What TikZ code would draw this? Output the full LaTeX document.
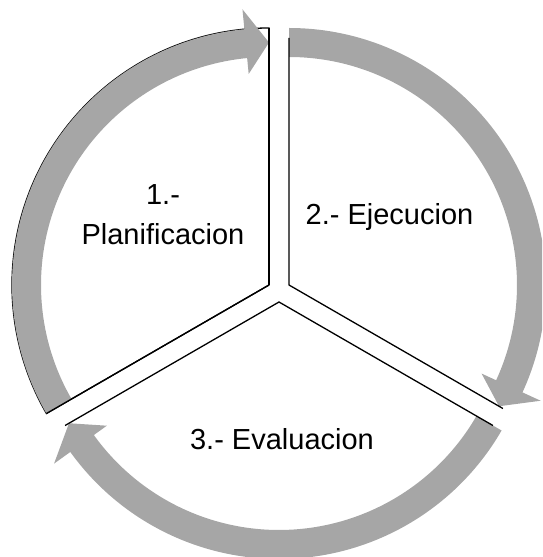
\documentclass[tikz,border=0pt]{standalone}
\usepackage{fontspec}
\setmainfont{Liberation Sans}
\usetikzlibrary{calc}
\definecolor{arrowgray}{RGB}{166,166,166}
\newcommand\cycarrow[4]{%
  \fill[arrowgray] ($(#1)+(#2:257)$) arc[start angle=#2,end angle=#3,radius=257]
    -- ($(#1)+(#3:277)$) -- ($(#1)+(#4:242.5)$) -- ($(#1)+(#3:212)$)
    -- ($(#1)+(#3:228)$) arc[start angle=#3,end angle=#2,radius=228] -- cycle;}
\begin{document}
\begin{tikzpicture}[x=1pt,y=1pt,
  edge/.style={draw=black, line width=1.3pt, line join=miter},
  lbl/.style={font=\fontsize{29}{34}\selectfont, inner sep=0pt, anchor=base}]
\useasboundingbox (0,0) rectangle (542,557);
\clip (0,0) rectangle (542,557);
\coordinate (S1) at (269,272);
\coordinate (S2) at (289,272);
\coordinate (S3) at (279,255);
% sector 1 outline (under the arrows)
\draw[edge] (S1) -- ++(90:257) arc[start angle=90,end angle=210,radius=257] -- cycle;
% curved arrows
\cycarrow{S1}{210}{95.5}{90}
\cycarrow{S2}{90}{-24.7}{-30}
\cycarrow{S3}{330}{215.7}{210}
% sector edges on top
\draw[edge] (S1) -- ++(90:257);
\draw[edge] (S1) -- ++(210:257);
\draw[edge] ($(S2)+(90:247)$) -- (S2) -- ++(-30:247);
\draw[edge] ($(S3)+(210:247)$) -- (S3) -- ++(330:247);
% labels
\node[lbl] (t1a) at (163,352) {1.-};
\node[lbl] (t1b) at (163,312) {Planificacion};
\node[lbl] (t2) at (389.5,332) {2.- Ejecucion};
\node[lbl] (t3) at (282,107) {3.- Evaluacion};
\end{tikzpicture}
\end{document}
